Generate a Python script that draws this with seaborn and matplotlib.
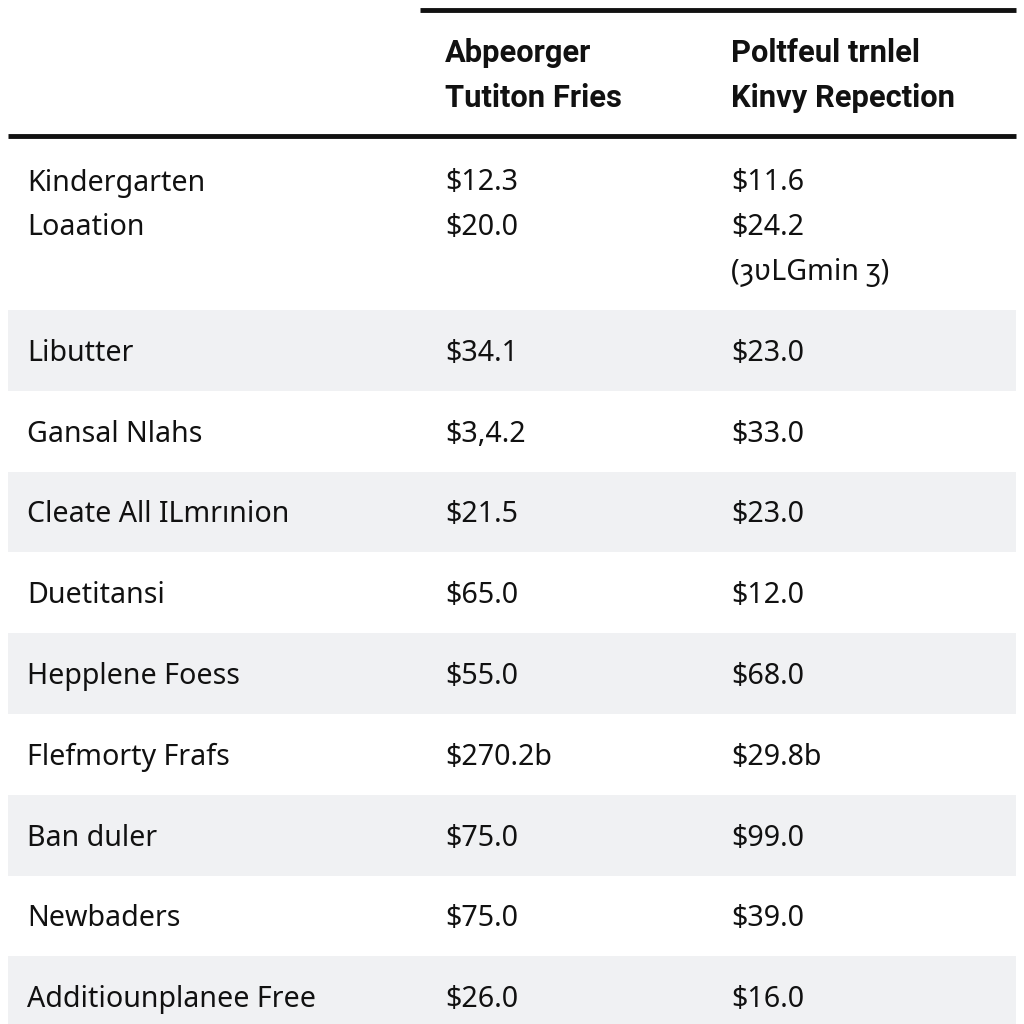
import matplotlib
matplotlib.use("Agg")
import matplotlib.pyplot as plt
import seaborn as sns

# ------------------------------------------------------------
# table content
# ------------------------------------------------------------
header_col1 = ["Abpeorger", "Tutiton Fries"]
header_col2 = ["Poltfeul trnlel", "Kinvy Repection"]

row_labels = [
    ["Kindergarten", "Loaation"],
    ["Libutter"],
    ["Gansal Nlahs"],
    ["Cleate All ILmrınion"],
    ["Duetitansi"],
    ["Hepplene Foess"],
    ["Flefmorty Frafs"],
    ["Ban duler"],
    ["Newbaders"],
    ["Additiounplanee Free"],
]
col1_values = [
    ["$12.3", "$20.0"],
    ["$34.1"],
    ["$3,4.2"],
    ["$21.5"],
    ["$65.0"],
    ["$55.0"],
    ["$270.2b"],
    ["$75.0"],
    ["$75.0"],
    ["$26.0"],
]
col2_values = [
    ["$11.6", "$24.2", "(ȝʋLGmin ʒ)"],
    ["$23.0"],
    ["$33.0"],
    ["$23.0"],
    ["$12.0"],
    ["$68.0"],
    ["$29.8b"],
    ["$99.0"],
    ["$39.0"],
    ["$16.0"],
]

# ------------------------------------------------------------
# layout (pixel units, y grows downward)
# ------------------------------------------------------------
X_LABEL, X_COL1, X_COL2 = 27, 445, 731
LEFT, RIGHT = 8, 1016
FIRST_TOP, FIRST_H, ROW_H = 140, 170, 80.8
LINE_H = 44.5
FS = 20.6
FS_HEAD = 22.2
DY = 3  # small nudge so text sits like the reference
STRIPE = "#f0f1f3"

sns.set_theme(style="white")
plt.rcParams["font.family"] = ["Noto Sans", "DejaVu Sans"]

fig = plt.figure(figsize=(10.24, 10.24), dpi=100)
ax = fig.add_axes([0, 0, 1, 1])
ax.set_xlim(0, 1024)
ax.set_ylim(1024, 0)
ax.axis("off")

# header (bold, a bit condensed in the original)
for i, (h1, h2) in enumerate(zip(header_col1, header_col2)):
    y = 50 + DY + i * 45
    for x, h in [(X_COL1, h1), (X_COL2, h2)]:
        ax.text(x, y, h, fontsize=FS_HEAD, fontweight="bold", va="center",
                color="#111111", family=["Roboto", "DejaVu Sans"])

ax.plot([420, RIGHT], [10, 10], color="#111111", lw=3.5, solid_capstyle="butt")
ax.plot([LEFT, RIGHT], [136, 136], color="#111111", lw=3.5, solid_capstyle="butt")

# rows
for i in range(len(row_labels)):
    if i == 0:
        top, h = FIRST_TOP, FIRST_H
        y0 = 180
    else:
        top = FIRST_TOP + FIRST_H + (i - 1) * ROW_H
        h = ROW_H
        y0 = top + h / 2
    if i % 2 == 1:
        ax.axhspan(top, top + h, xmin=LEFT / 1024, xmax=RIGHT / 1024,
                   color=STRIPE, lw=0, zorder=0)
    for x, cell in [(X_LABEL, row_labels[i]), (X_COL1, col1_values[i]),
                    (X_COL2, col2_values[i])]:
        for k, line in enumerate(cell):
            ax.text(x, y0 + DY + k * LINE_H, line, fontsize=FS, va="center",
                    color="#111111")

fig.savefig("out.png", dpi=100, facecolor="white")
